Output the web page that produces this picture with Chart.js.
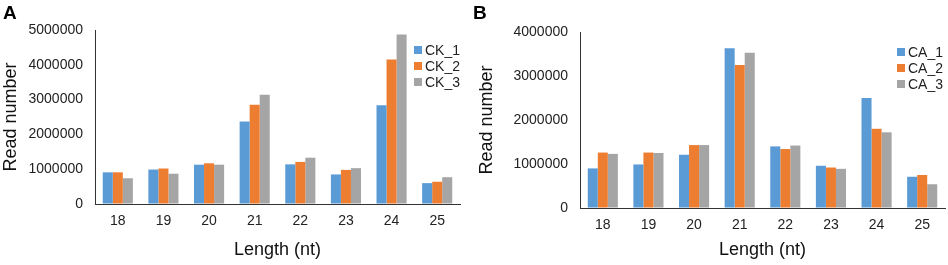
<!DOCTYPE html>
<html>
<head>
<meta charset="utf-8">
<script src="https://cdn.jsdelivr.net/npm/chart.js@4"></script>
<style>
    body { margin: 0; background: #fff; }
    #wrap { position: relative; width: 948px; height: 265px; overflow: hidden; }
    canvas { position: absolute; top: 0; }
    .panel { position: absolute; top: 2px; font: bold 19px "Liberation Sans", Arial, sans-serif; color: #000; }
</style>
</head>
<body>
<div id="wrap">
    <canvas id="chartA" width="470" height="265" style="left:0"></canvas>
    <canvas id="chartB" width="478" height="265" style="left:470px"></canvas>
    <div class="panel" style="left:3px">A</div>
    <div class="panel" style="left:473px">B</div>
</div>
<script>
// read lengths (nt)
const lengths = ["18", "19", "20", "21", "22", "23", "24", "25"];

// panel A - control samples
const ck1 = [910000, 990000, 1130000, 2370000, 1140000, 850000, 2840000, 600000];
const ck2 = [910000, 1020000, 1170000, 2850000, 1210000, 980000, 4150000, 640000];
const ck3 = [740000, 870000, 1130000, 3140000, 1330000, 1030000, 4870000, 770000];

// panel B - treated samples
const ca1 = [900000, 990000, 1210000, 3630000, 1400000, 960000, 2500000, 710000];
const ca2 = [1260000, 1260000, 1430000, 3250000, 1340000, 920000, 1800000, 750000];
const ca3 = [1230000, 1250000, 1430000, 3530000, 1420000, 890000, 1720000, 540000];

const colors = ["#5B9BD5", "#ED7D31", "#A5A5A5"];
const fontFamily = '"Liberation Sans", Arial, sans-serif';

// legend drawn inside the plot area, top right
const insideLegend = {
    id: "insideLegend",
    afterDraw(chart, args, opts) {
        const ctx = chart.ctx;
        ctx.save();
        ctx.font = "14px " + fontFamily;
        ctx.textBaseline = "middle";
        chart.data.datasets.forEach((ds, i) => {
            const y = opts.y + i * 16;
            ctx.fillStyle = ds.backgroundColor;
            ctx.fillRect(opts.x, y - 4, 8, 8);
            ctx.fillStyle = "#222";
            ctx.fillText(ds.label, opts.x + 11, y + 1);
        });
        ctx.restore();
    }
};

function makeChart(id, names, series, yMax, yWidth, padRight, padTop, xHeight, legendPos, titlePad) {
    const ctx = document.getElementById(id);
    return new Chart(ctx, {
        type: "bar",
        data: {
            labels: lengths,
            datasets: series.map((data, i) => ({
                label: names[i],
                data: data,
                backgroundColor: colors[i],
                borderWidth: 0,
                categoryPercentage: 0.66,
                barPercentage: 1.0,
            })),
        },
        plugins: [insideLegend],
        options: {
            responsive: false,
            animation: false,
            layout: { padding: { top: padTop, right: padRight, left: 0, bottom: 0 } },
            plugins: {
                legend: { display: false },
                tooltip: { enabled: false },
                insideLegend: legendPos,
            },
            scales: {
                x: {
                    grid: { drawOnChartArea: false, drawTicks: false },
                    border: { display: true, color: "#333", width: 1 },
                    ticks: { color: "#222", font: { size: 14, family: fontFamily }, padding: 9 },
                    title: {
                        display: true,
                        text: "Length (nt)",
                        color: "#111",
                        font: { size: 18, family: fontFamily },
                        padding: { top: 4, bottom: 4 },
                    },
                    afterFit: function (scale) { scale.height = xHeight; },
                },
                y: {
                    min: 0,
                    max: yMax,
                    grid: { drawOnChartArea: false, drawTicks: false },
                    border: { display: true, color: "#333", width: 1 },
                    ticks: {
                        stepSize: 1000000,
                        color: "#222",
                        font: { size: 14, family: fontFamily },
                        padding: 12,
                        callback: (v) => String(v),
                    },
                    title: {
                        display: true,
                        text: "Read number",
                        color: "#111",
                        font: { size: 18, family: fontFamily },
                        padding: { top: titlePad, bottom: 0 },
                    },
                    afterFit: function (scale) { scale.width = yWidth; },
                },
            },
        },
    });
}

makeChart("chartA", ["CK_1", "CK_2", "CK_3"], [ck1, ck2, ck3], 5000000, 95, 10, 30, 61, { x: 414, y: 50 }, 0);
makeChart("chartB", ["CA_1", "CA_2", "CA_3"], [ca1, ca2, ca3], 4000000, 110, 3, 32, 57, { x: 427, y: 52 }, 6);
</script>
</body>
</html>
